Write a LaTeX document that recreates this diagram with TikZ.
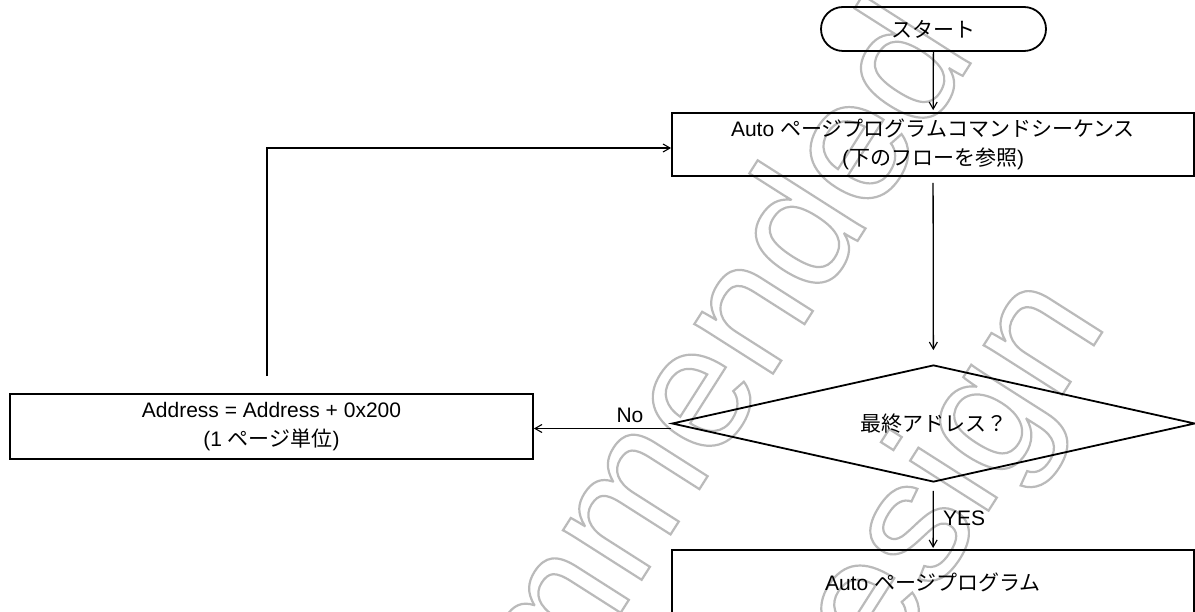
\documentclass[tikz,border=0pt]{standalone}
\usepackage{fontspec}
\setmainfont{Liberation Sans}
\newfontfamily\jp{Noto Sans CJK JP}
\usetikzlibrary{shapes.geometric,arrows.meta}
\newcommand\wmon{\special{pdf:literal direct 1 Tr}}
\newcommand\wmoff{\special{pdf:literal direct 0 Tr}}
\begin{document}
\begin{tikzpicture}[x=1pt,y=-1pt,
  every node/.style={font=\fontsize{21}{29}\selectfont},
  box/.style={draw, line width=1.8pt, rectangle, inner sep=0pt, align=center},
  term/.style={draw, line width=1.8pt, rectangle, rounded corners=22pt, inner sep=0pt},
  decision/.style={draw, line width=1.8pt, diamond, aspect=4.47, inner sep=0pt},
  arr/.style={line width=1.3pt, -{Straight Barb[length=7pt,width=8pt,line width=1.1pt]}},
  lbl/.style={inner sep=0pt},
  wm/.style={inner sep=0pt, anchor=base, rotate=57.5, text=black!27, line width=2.2pt,
    font=\fontsize{176}{228}\selectfont}]
\useasboundingbox (0,0) rectangle (1195,612);
\fill[white] (0,0) rectangle (1195,612);
% watermark
\node[wm] (wm1) at (588,664) {\wmon Not recommended\wmoff};
\node[wm] (wm2) at (801,805) {\wmon for new design\wmoff};
% nodes
\node[term, minimum width=225pt, minimum height=44pt] (start) at (933.5,29) {\jp スタート};
\node[box, minimum width=522pt, minimum height=63pt] (seq) at (933,144.5)
  {Auto {\jp ページプログラムコマンドシーケンス}\\({\jp 下のフローを参照})};
\node[decision, minimum width=523pt, minimum height=117pt] (dia) at (933.5,423.5)
  {\jp 最終アドレス？};
\node[box, minimum width=523pt, minimum height=65pt] (addr) at (271.5,426.5)
  {Address = Address + 0x200\\(1 {\jp ページ単位})};
\node[box, minimum width=522pt, minimum height=66pt, anchor=north] (prog) at (933,549)
  {Auto {\jp ページプログラム}};
\node[lbl] (no) at (630,415) {No};
\node[lbl, anchor=west] (yes) at (943,518) {YES};
% connectors
\draw[arr, shorten >=2pt] (start) -- (seq);
\draw[arr, shorten <=6pt, shorten >=14pt] (seq) -- (dia);
\draw[arr, shorten <=8pt, shorten >=1pt] (dia) -- (prog);
\coordinate (nostart) at ([yshift=-5pt]dia.west);
\draw[arr] (nostart) -- (nostart -| addr.east);
\coordinate (lp) at ([xshift=-4.5pt,yshift=17pt]addr.north);
\coordinate (lpend) at ([yshift=-3.5pt]seq.west);
\draw[arr] (lp) |- (lpend);
\end{tikzpicture}
\end{document}
